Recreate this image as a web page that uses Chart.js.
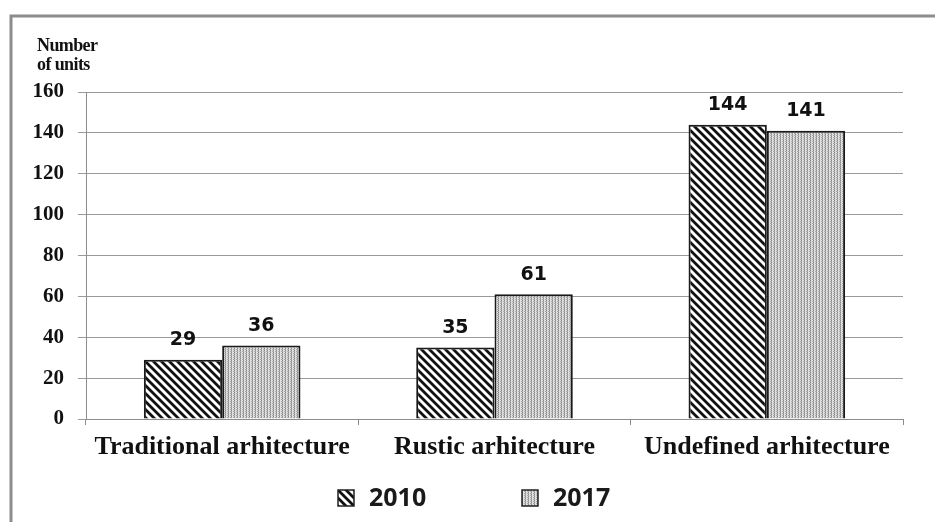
<!DOCTYPE html>
<html>
<head>
<meta charset="utf-8">
<script src="https://cdn.jsdelivr.net/npm/chart.js@4.4.0/dist/chart.umd.min.js"></script>
<style>
  html, body { margin: 0; padding: 0; background: #fff; }
  #wrap { position: relative; width: 935px; height: 522px; }
</style>
</head>
<body>
<div id="wrap"><canvas id="chart" width="935" height="522"></canvas></div>
<script>
// Chart data
const categories = ['Traditional arhitecture', 'Rustic arhitecture', 'Undefined arhitecture'];
const seriesLabels = ['2010', '2017'];
const values2010 = [29, 35, 144];
const values2017 = [36, 61, 141];
const yTicks = [0, 20, 40, 60, 80, 100, 120, 140, 160];

// Fill patterns
function hatchPattern() {
    const c = document.createElement('canvas');
    c.width = 8; c.height = 8;
    const g = c.getContext('2d');
    g.fillStyle = '#fff';
    g.fillRect(0, 0, 8, 8);
    g.strokeStyle = '#111';
    g.lineWidth = 2.8;
    g.beginPath();
    g.moveTo(-2, -2); g.lineTo(10, 10);
    g.moveTo(-10, -2); g.lineTo(2, 10);
    g.moveTo(6, -2); g.lineTo(18, 10);
    g.stroke();
    return g.createPattern(c, 'repeat');
}

function dotPattern() {
    const c = document.createElement('canvas');
    c.width = 3; c.height = 2;
    const g = c.getContext('2d');
    g.fillStyle = '#e0e0e0';
    g.fillRect(0, 0, 3, 2);
    g.fillStyle = '#888';
    g.fillRect(0, 0, 1, 1);
    g.fillStyle = '#ababab';
    g.fillRect(0, 1, 1, 1);
    g.fillRect(2, 1, 1, 1);
    return g.createPattern(c, 'repeat');
}

const fills = [hatchPattern(), dotPattern()];

// Frame, axis title, value labels and legend
const extras = {
    id: 'extras',
    beforeDraw(chart) {
        const ctx = chart.ctx;
        ctx.save();
        ctx.fillStyle = '#fff';
        ctx.fillRect(0, 0, chart.width, chart.height);
        ctx.strokeStyle = '#8c8c8c';
        ctx.lineWidth = 3;
        ctx.beginPath();
        ctx.moveTo(11, chart.height);
        ctx.lineTo(11, 16);
        ctx.lineTo(chart.width, 16);
        ctx.stroke();
        ctx.restore();
    },
    afterDatasetsDraw(chart) {
        const ctx = chart.ctx;
        ctx.save();
        // value labels
        ctx.fillStyle = '#111';
        ctx.font = 'bold 19px "DejaVu Sans"';
        ctx.textAlign = 'center';
        ctx.textBaseline = 'bottom';
        chart.data.datasets.forEach((ds, i) => {
            chart.getDatasetMeta(i).data.forEach((bar, j) => {
                ctx.fillText(String(ds.data[j]), bar.x, bar.y - 10);
            });
        });
        // axis title
        ctx.textAlign = 'left';
        ctx.textBaseline = 'alphabetic';
        ctx.font = 'bold 18px "Liberation Serif"';
        ctx.letterSpacing = '-0.6px';
        ctx.fillText('Number', 37, 51);
        ctx.fillText('of units', 37, 70);
        ctx.letterSpacing = '0px';
        // legend
        const items = [{ x: 338 }, { x: 522 }];
        ctx.font = 'bold 25px "Open Sans"';
        ctx.textBaseline = 'middle';
        items.forEach((it, i) => {
            const bx = it.x, by = 490, bs = 16;
            ctx.fillStyle = fills[i];
            ctx.fillRect(bx, by, bs, bs);
            ctx.strokeStyle = '#222';
            ctx.lineWidth = 1.5;
            ctx.strokeRect(bx, by, bs, bs);
            ctx.fillStyle = '#1a1a1a';
            ctx.fillText(seriesLabels[i], bx + 31, by + bs / 2 + 1);
        });
        ctx.restore();
    }
};

new Chart(document.getElementById('chart'), {
    type: 'bar',
    data: {
        labels: categories,
        datasets: [{
            label: seriesLabels[0],
            data: values2010,
            backgroundColor: fills[0],
            borderColor: '#1a1a1a',
            borderWidth: 2,
            categoryPercentage: 0.575,
            barPercentage: 1
        }, {
            label: seriesLabels[1],
            data: values2017,
            backgroundColor: fills[1],
            borderColor: '#1a1a1a',
            borderWidth: 2,
            categoryPercentage: 0.575,
            barPercentage: 1
        }]
    },
    options: {
        responsive: false,
        animation: false,
        devicePixelRatio: 1,
        layout: { padding: { top: 92, right: 32, bottom: 58, left: 0 } },
        plugins: {
            legend: { display: false },
            tooltip: { enabled: false }
        },
        scales: {
            x: {
                grid: { drawOnChartArea: false, color: '#8c8c8c', tickLength: 6, offset: true },
                border: { color: '#8c8c8c', width: 1 },
                ticks: {
                    color: '#111',
                    padding: 7,
                    maxRotation: 0,
                    font: { family: '"Liberation Serif"', size: 26, weight: 'bold' }
                },
                afterFit(scale) { scale.height = 45; }
            },
            y: {
                min: 0,
                max: 160,
                afterBuildTicks(scale) { scale.ticks = yTicks.map(v => ({ value: v })); },
                grid: { color: '#9a9a9a', tickLength: 8 },
                border: { color: '#8c8c8c', width: 1 },
                ticks: {
                    color: '#111',
                    padding: 14,
                    font: { family: '"Liberation Serif"', size: 21, weight: 'bold' }
                },
                afterFit(scale) { scale.width = 86; }
            }
        }
    },
    plugins: [extras]
});
</script>
</body>
</html>
